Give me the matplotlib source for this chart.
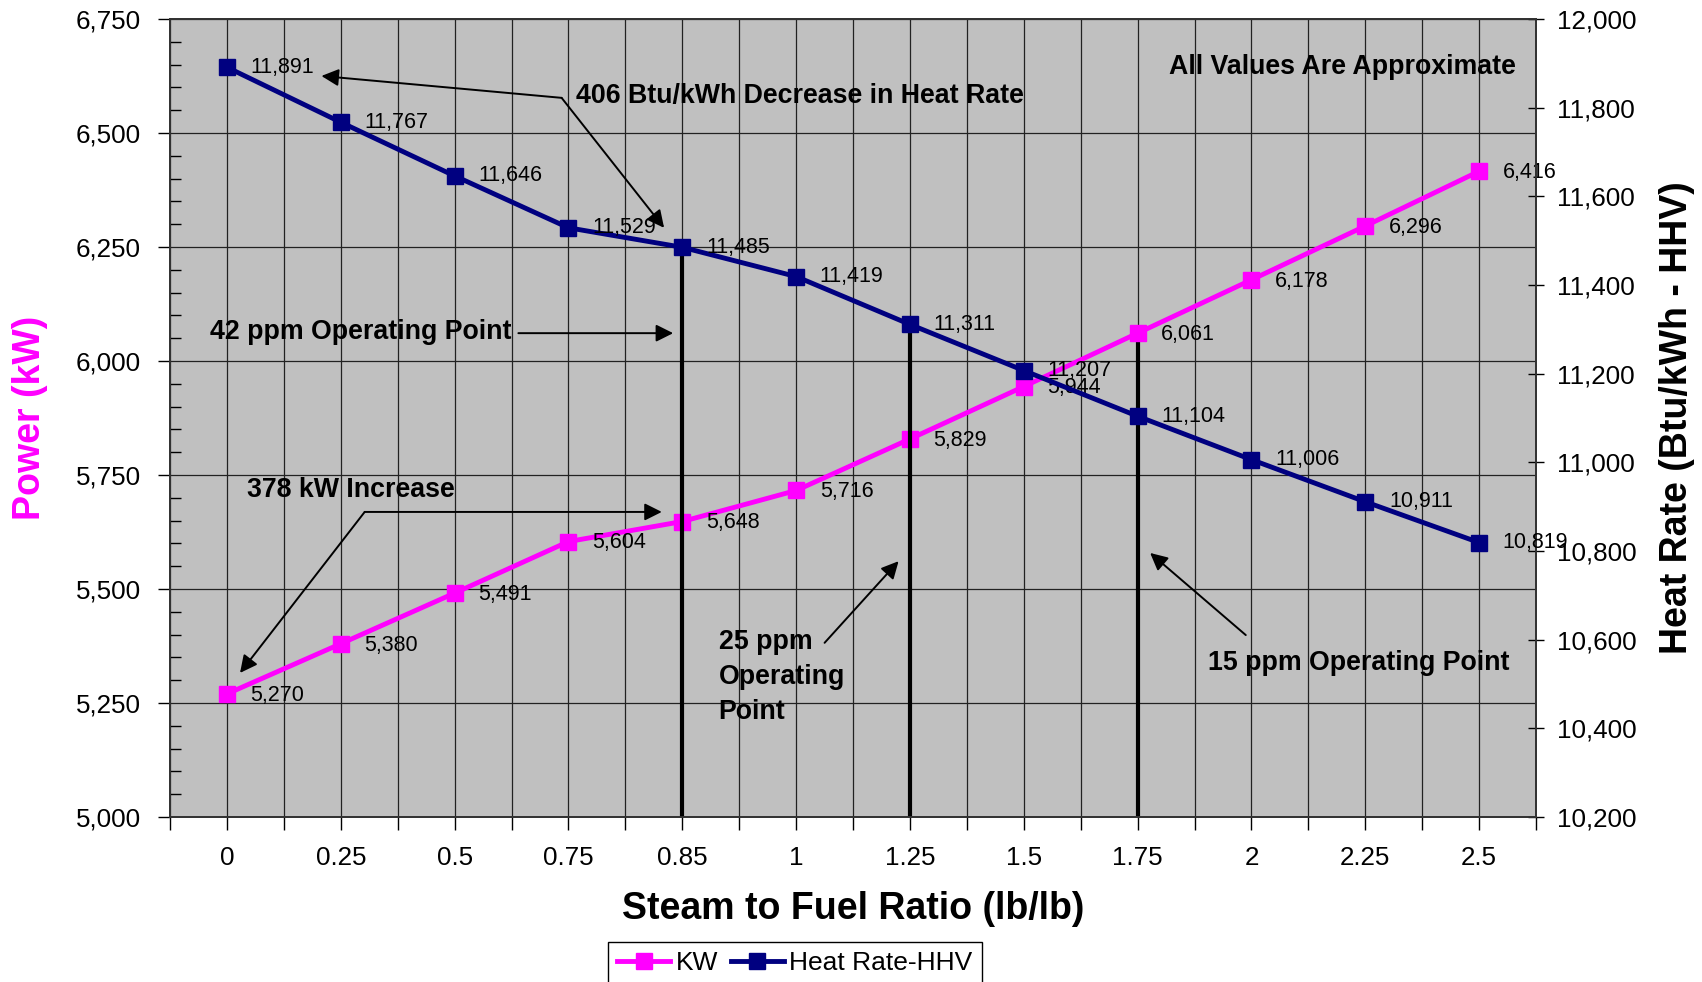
import matplotlib
matplotlib.use("Agg")
import matplotlib.pyplot as plt
from matplotlib.ticker import MultipleLocator, StrMethodFormatter

plt.rcParams['font.family'] = ['Liberation Sans', 'DejaVu Sans']

ratios = ["0", "0.25", "0.5", "0.75", "0.85", "1", "1.25", "1.5", "1.75", "2", "2.25", "2.5"]
power_kw = [5270, 5380, 5491, 5604, 5648, 5716, 5829, 5944, 6061, 6178, 6296, 6416]
heat_rate = [11891, 11767, 11646, 11529, 11485, 11419, 11311, 11207, 11104, 11006, 10911, 10819]

# operating points: category index, dropped from heat rate or power series
op_points_hr = [4, 6]
op_points_kw = [8]

x = list(range(len(ratios)))

fig = plt.figure(figsize=(17.02, 9.82), dpi=100)
ax1 = fig.add_axes([0.0999, 0.168, 0.8026, 0.8127])
ax2 = ax1.twinx()

ax1.set_facecolor('#c0c0c0')
ax1.set_xlim(-0.5, len(ratios) - 0.5)
ax1.set_ylim(5000, 6750)
ax2.set_ylim(10200, 12000)

# grid
ax1.set_xticks(x)
ax1.set_xticks([i - 0.5 for i in range(len(ratios) + 1)], minor=True)
ax1.set_xticklabels(ratios)
ax1.yaxis.set_major_locator(MultipleLocator(250))
ax1.yaxis.set_minor_locator(MultipleLocator(50))
ax1.yaxis.set_major_formatter(StrMethodFormatter('{x:,.0f}'))
ax2.yaxis.set_major_locator(MultipleLocator(200))
ax2.yaxis.set_major_formatter(StrMethodFormatter('{x:,.0f}'))
ax1.xaxis.grid(True, which='both', color='#222222', lw=0.9)
ax1.yaxis.grid(True, which='major', color='#222222', lw=0.9)
ax1.set_axisbelow(True)

ax1.tick_params(axis='x', which='both', direction='out', length=9, width=1, labelsize=18.7, pad=12)
ax1.tick_params(axis='y', which='major', direction='out', length=9, width=1, labelsize=18.7, pad=12)
ax1.tick_params(axis='y', which='minor', direction='in', length=8, width=1)
ax2.tick_params(axis='y', which='major', direction='inout', length=12, width=1, labelsize=18.7, pad=9)

for ax in (ax1, ax2):
    for s in ax.spines.values():
        s.set_color('#333333')
        s.set_linewidth(1.3)

# operating point drop lines
for i in op_points_hr:
    ax2.vlines(i, 10200, heat_rate[i], color='black', lw=3, zorder=1)
for i in op_points_kw:
    ax1.vlines(i, 5000, power_kw[i], color='black', lw=3, zorder=1)

l1, = ax1.plot(x, power_kw, color='#ff00ff', lw=3.5, marker='s', ms=11, label='KW', zorder=3)
l2, = ax2.plot(x, heat_rate, color='#000080', lw=3.5, marker='s', ms=11, label='Heat Rate-HHV', zorder=3)

for i, v in enumerate(power_kw):
    ax1.annotate(f"{v:,}", (i, v), xytext=(17, -1), textcoords='offset points',
                 ha='left', va='center', fontsize=15.5, zorder=4)
for i, v in enumerate(heat_rate):
    ax2.annotate(f"{v:,}", (i, v), xytext=(17, 0), textcoords='offset points',
                 ha='left', va='center', fontsize=15.5, zorder=4)

# annotations, placed in power axis coordinates on the top axis
tr = ax1.transData
bold = dict(fontsize=19.3, fontweight='bold', color='black')
arrow = dict(arrowstyle='-|>', color='black', lw=1.4, mutation_scale=26, shrinkA=0, shrinkB=0)

ax2.text(9.80, 6645, "All Values Are Approximate", transform=tr, ha='center', va='center', **bold)

ax2.text(3.07, 6582, "406 Btu/kWh Decrease in Heat Rate", transform=tr, ha='left', va='center', **bold)
ax2.annotate('', xy=(0.83, 6625), xycoords=tr, xytext=(2.94, 6577), textcoords=tr, arrowprops=arrow)
ax2.annotate('', xy=(3.84, 6292), xycoords=tr, xytext=(2.94, 6577), textcoords=tr, arrowprops=arrow)

ax2.text(-0.15, 6063, "42 ppm Operating Point", transform=tr, ha='left', va='center', **bold)
ax2.annotate('', xy=(3.92, 6061), xycoords=tr, xytext=(2.56, 6061), textcoords=tr, arrowprops=arrow)

ax2.text(0.18, 5716, "378 kW Increase", transform=tr, ha='left', va='center', **bold)
ax2.annotate('', xy=(3.82, 5669), xycoords=tr, xytext=(1.21, 5669), textcoords=tr, arrowprops=arrow)
ax2.annotate('', xy=(0.115, 5316), xycoords=tr, xytext=(1.21, 5669), textcoords=tr, arrowprops=arrow)

ax2.text(4.32, 5306, "25 ppm\nOperating\nPoint", transform=tr, ha='left', va='center',
         linespacing=1.45, **bold)
ax2.annotate('', xy=(5.90, 5561), xycoords=tr, xytext=(5.25, 5382), textcoords=tr, arrowprops=arrow)

ax2.text(8.62, 5338, "15 ppm Operating Point", transform=tr, ha='left', va='center', **bold)
ax2.annotate('', xy=(8.11, 5579), xycoords=tr, xytext=(8.95, 5399), textcoords=tr, arrowprops=arrow)

ax1.set_xlabel("Steam to Fuel Ratio (lb/lb)", fontsize=27, fontweight='bold', labelpad=15)
ax1.set_ylabel("Power (kW)", fontsize=27, fontweight='bold', color='#ff00ff', labelpad=20)
ax2.set_ylabel("Heat Rate (Btu/kWh - HHV)", fontsize=27, fontweight='bold', labelpad=16)

leg = fig.legend([l1, l2], ['KW', 'Heat Rate-HHV'], loc='upper center', bbox_to_anchor=(0.467, 0.0407),
                 ncol=2, fontsize=19, frameon=True, fancybox=False, edgecolor='black', framealpha=1,
                 handlelength=2, handletextpad=0.2, columnspacing=0.5, borderpad=0.35, borderaxespad=0)
leg.get_frame().set_linewidth(1)

fig.savefig('out.png', dpi=100)
